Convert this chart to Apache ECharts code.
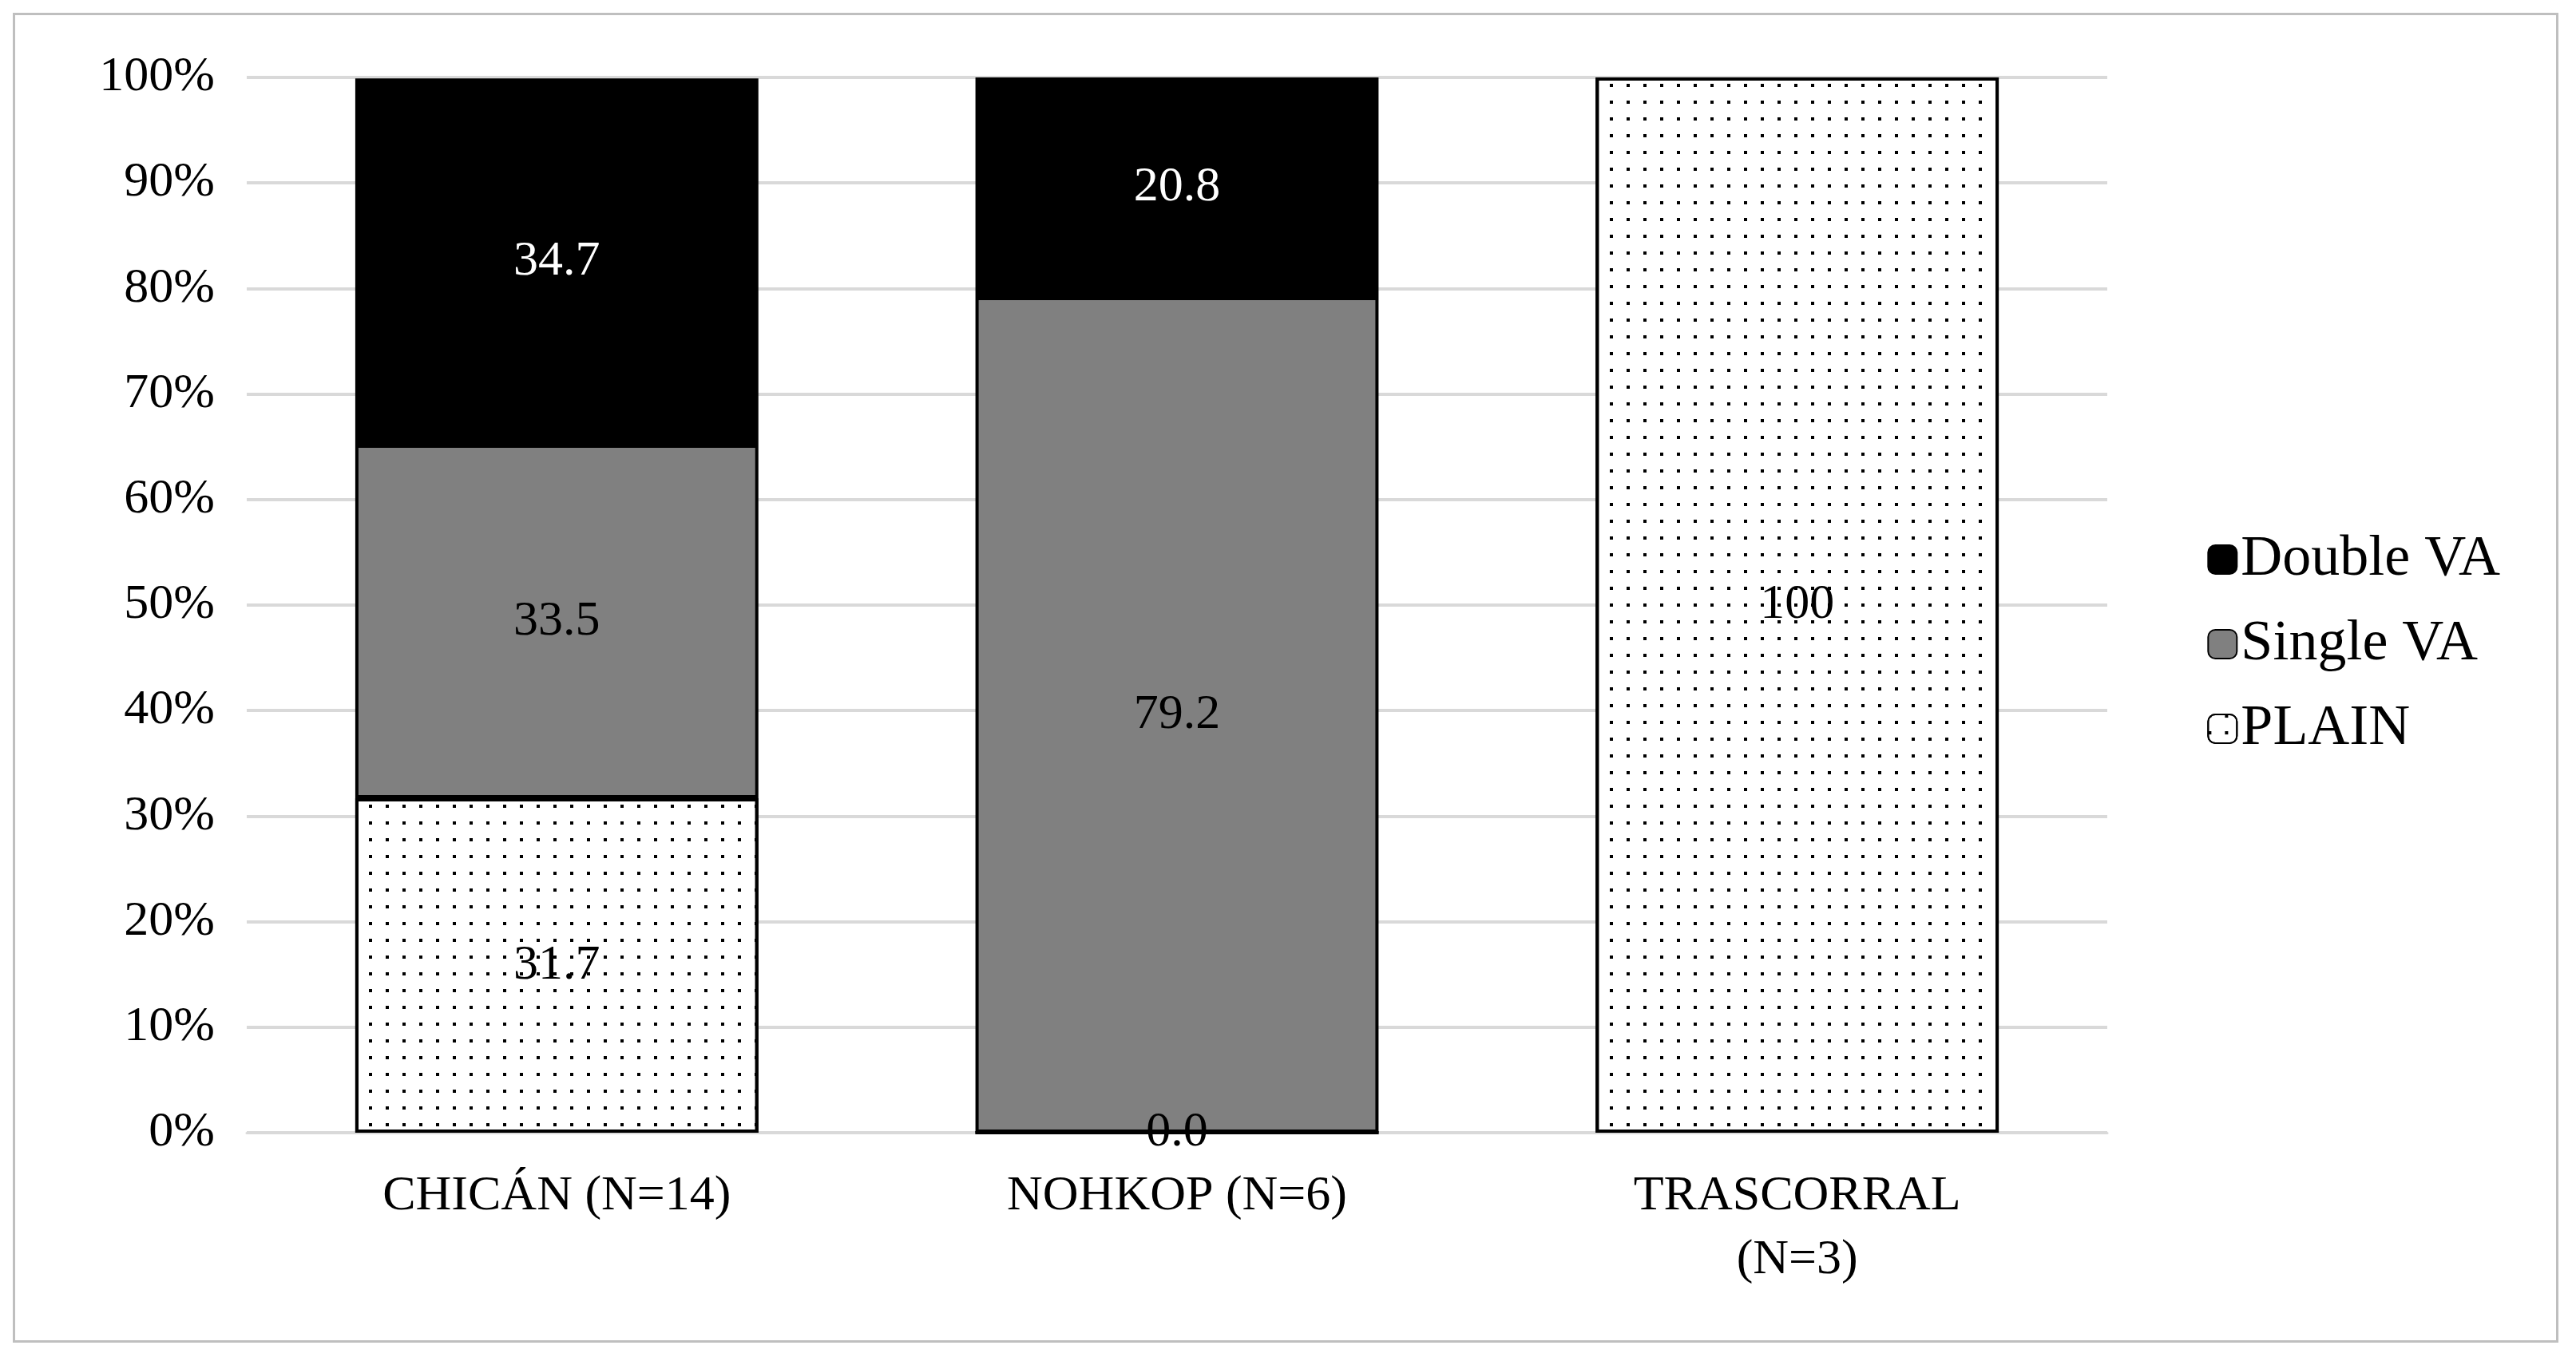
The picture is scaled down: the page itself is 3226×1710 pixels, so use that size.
<!DOCTYPE html>
<html><head><meta charset="utf-8">
<script src="https://cdn.jsdelivr.net/npm/echarts@6/dist/echarts.min.js"></script>
<style>
html,body{margin:0;padding:0;background:#fff;}
#wrap{position:absolute;left:16px;top:16px;width:3188px;height:1666px;border:3px solid #bfbfbf;box-sizing:border-box;}
#chart{position:absolute;left:0;top:0;width:3226px;height:1710px;}
</style></head>
<body>
<div id="wrap"></div>
<div id="chart"></div>
<script>
/* ---------- data ---------- */
const sites = ['CHICÁN (N=14)', 'NOHKOP (N=6)', 'TRASCORRAL\n(N=3)'];
const plainVals  = [31.7, 0.0, 100];
const singleVals = [33.5, 79.2, null];
const doubleVals = [34.7, 20.8, null];
const yTicks = [0,10,20,30,40,50,60,70,80,90,100];

/* ---------- chart ---------- */
const font = 'Liberation Serif';
const chart = echarts.init(document.getElementById('chart'));
const border = {borderColor:'#000', borderWidth:4};
function lbl(color, digits){
  return {show:true, position:'inside', color:color, fontFamily:font, fontSize:62,
    formatter: p => p.value==null ? '' : (digits ? p.value.toFixed(1) : String(p.value))};
}
chart.setOption({
  animation:false,
  grid:{left:309, right:587, top:97, bottom:291},
  legend:{
    orient:'vertical', right:90, top:660, itemGap:34, itemWidth:36, itemHeight:36,
    textStyle:{fontFamily:font, fontSize:72, color:'#000'},
    data:['Double VA','Single VA','PLAIN']
  },
  xAxis:{type:'category', data:sites,
    axisLine:{lineStyle:{color:'#d9d9d9', width:3}}, axisTick:{show:false},
    axisLabel:{fontFamily:font, fontSize:62, color:'#000', margin:40, lineHeight:80}},
  yAxis:{type:'value', min:0, max:100, interval:10,
    axisLabel:{fontFamily:font, fontSize:62, color:'#000', margin:40, formatter:v=>v+'%'},
    splitLine:{lineStyle:{color:'#d9d9d9', width:4}}},
  series:[
    {name:'PLAIN', type:'bar', stack:'a', barWidth:'65%', data:plainVals,
      itemStyle:Object.assign({color:'#fff', decal:{symbol:'rect', symbolSize:1, color:'#000',
        dashArrayX:[4,17], dashArrayY:[4,17]}}, border),
      label:Object.assign(lbl('#000', false), {formatter:p=>p.value===100?'100':p.value.toFixed(1)})},
    {name:'Single VA', type:'bar', stack:'a', data:singleVals,
      itemStyle:Object.assign({color:'#808080'}, border), label:lbl('#000', true)},
    {name:'Double VA', type:'bar', stack:'a', data:doubleVals,
      itemStyle:Object.assign({color:'#000'}, border), label:lbl('#fff', true)}
  ]
});
</script>
</body></html>
